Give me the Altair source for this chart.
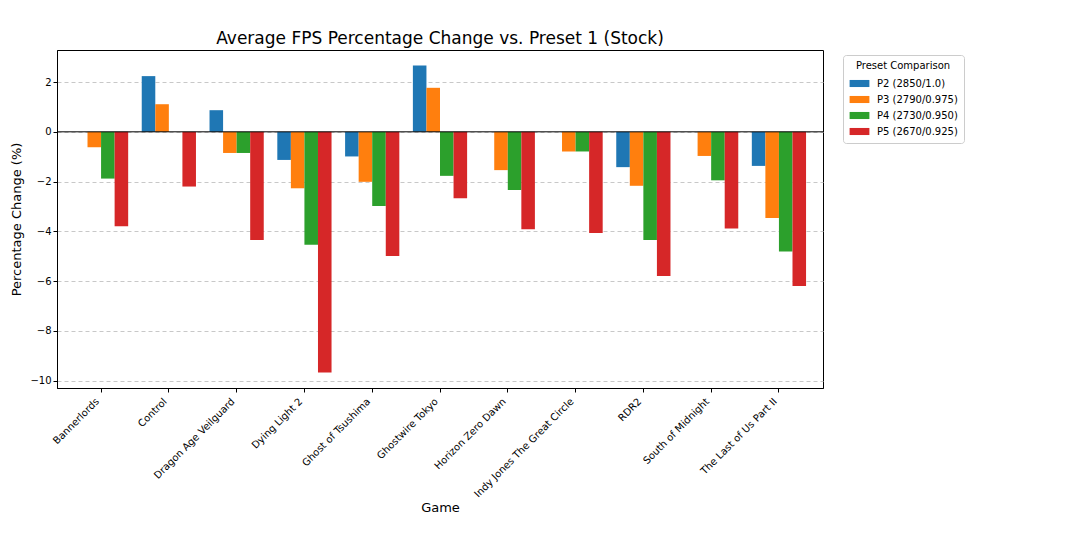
import altair as alt
import pandas as pd

games = ["Bannerlords", "Control", "Dragon Age Veilguard", "Dying Light 2",
         "Ghost of Tsushima", "Ghostwire Tokyo", "Horizon Zero Dawn",
         "Indy Jones The Great Circle", "RDR2", "South of Midnight",
         "The Last of Us Part II"]
presets = ["P2 (2850/1.0)", "P3 (2790/0.975)", "P4 (2730/0.950)", "P5 (2670/0.925)"]
colores = ["#1f77b4", "#ff7f0e", "#2ca02c", "#d62728"]

p2 = [0.0, 2.24, 0.87, -1.13, -0.99, 2.67, 0.0, 0.0, -1.42, 0.0, -1.37]
p3 = [-0.62, 1.11, -0.85, -2.27, -2.01, 1.77, -1.54, -0.79, -2.17, -0.97, -3.46]
p4 = [-1.88, 0.0, -0.85, -4.54, -2.98, -1.77, -2.34, -0.79, -4.35, -1.95, -4.81]
p5 = [-3.80, -2.20, -4.35, -9.68, -4.99, -2.67, -3.92, -4.07, -5.80, -3.89, -6.20]

filas = []
for preset, valores in zip(presets, [p2, p3, p4, p5]):
    for juego, v in zip(games, valores):
        filas.append({"Game": juego, "Preset": preset, "Cambio": v})
data = pd.DataFrame(filas)

# barras agrupadas por juego
barras = alt.Chart(data).mark_bar().encode(
    x=alt.X("Game:N", sort=games, title="Game",
            scale=alt.Scale(paddingInner=0.2, paddingOuter=0.25),
            axis=alt.Axis(labelAngle=-45, labelAlign="right", labelBaseline="top",
                          labelFontSize=10, labelPadding=4, labelOffset=-7,
                          titleFontSize=13, titleY=113, titleFontWeight="normal",
                          grid=False, tickColor="black", tickSize=4,
                          domainColor="black")),
    xOffset=alt.XOffset("Preset:N", sort=presets, scale=alt.Scale(paddingInner=0)),
    y=alt.Y("Cambio:Q", title="Percentage Change (%)",
            scale=alt.Scale(domain=[-10.3, 3.29], nice=False, zero=False),
            axis=alt.Axis(values=[-10, -8, -6, -4, -2, 0, 2], format="d",
                          labelFontSize=10, titleFontSize=13, titleFontWeight="normal",
                          titleX=-34, gridDash=[4, 3], gridColor="#c8c8c8",
                          tickColor="black", tickSize=4, domainColor="black")),
    color=alt.Color("Preset:N", sort=presets,
                    scale=alt.Scale(domain=presets, range=colores),
                    legend=alt.Legend(title="Preset Comparison", orient="none",
                                      legendX=786, legendY=5,
                                      symbolType="M-1.4,-0.5L1.4,-0.5L1.4,0.5L-1.4,0.5Z",
                                      symbolSize=200, symbolStrokeWidth=0,
                                      symbolOffset=3, labelOffset=10,
                                      titleFontSize=10, labelFontSize=10,
                                      titleFontWeight="normal", titleAnchor="middle",
                                      strokeColor="#cccccc", padding=6,
                                      cornerRadius=3, rowPadding=3)),
)

# linea en cero
linea_cero = alt.Chart(pd.DataFrame({"y": [0]})).mark_rule(color="black", strokeWidth=1).encode(
    y="y:Q"
)

chart = (barras + linea_cero).properties(
    width=766,
    height=338,
    title=alt.TitleParams("Average FPS Percentage Change vs. Preset 1 (Stock)",
                          fontSize=17, fontWeight="normal", anchor="middle", offset=2),
    autosize=alt.AutoSizeParams(type="none"),
    padding={"left": 49, "top": 42, "right": 249, "bottom": 160},
).configure(
    font="DejaVu Sans",
).configure_view(
    stroke="black",
    strokeWidth=1,
).configure_axis(
    labelColor="black",
    titleColor="black",
    labelFont="DejaVu Sans",
    titleFont="DejaVu Sans",
).configure_title(
    color="black",
    font="DejaVu Sans",
)

chart.save("out.html", embed_options={"renderer": "svg", "actions": False})
